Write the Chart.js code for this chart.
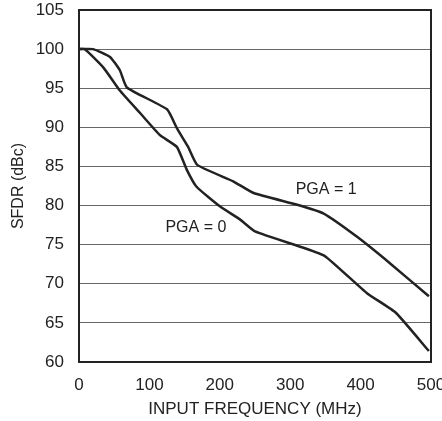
<!DOCTYPE html>
<html>
<head>
<meta charset="utf-8">
<script src="https://cdn.jsdelivr.net/npm/chart.js@4.4.1/dist/chart.umd.min.js"></script>
<style>
  html, body { margin: 0; padding: 0; background: #fff; }
  #wrap { width: 442px; height: 421px; }
</style>
</head>
<body>
<div id="wrap"><canvas id="chart"></canvas></div>
<script>
// SFDR vs input frequency
const pga1Freq = [0, 20, 44, 58, 68, 125, 139, 155, 168, 219, 248, 310, 347, 395, 442, 497]
const pga1Sfdr = [100, 100, 99.0, 97.3, 95.1, 92.3, 89.9, 87.5, 85.2, 83.1, 81.6, 80.1, 79.0, 76.0, 72.6, 68.4]

const pga0Freq = [0, 8, 35, 58, 87, 115, 139, 153, 167, 200, 229, 250, 319, 350, 409, 450, 497]
const pga0Sfdr = [100, 100, 97.6, 94.7, 91.8, 89.0, 87.5, 84.6, 82.4, 79.9, 78.2, 76.7, 74.6, 73.5, 68.8, 66.3, 61.4]

const xTicks = [0, 100, 200, 300, 400, 500]
const yTicks = [60, 65, 70, 75, 80, 85, 90, 95, 100, 105]

const labels = [
  { text: 'PGA = 1', x: 351, y: 82.0 },
  { text: 'PGA = 0', x: 166, y: 77.2 }
]

const FONT = '"Liberation Sans Narrow", "Liberation Sans", Arial, sans-serif'

function toPoints(xs, ys) {
  return xs.map((x, i) => ({ x: x, y: ys[i] }))
}

const frame = {
  id: 'frame',
  afterDatasetsDraw(chart) {
    const { ctx, chartArea: a, scales } = chart
    ctx.save()
    ctx.strokeStyle = '#222'
    ctx.lineWidth = 2
    ctx.strokeRect(a.left, a.top, a.right - a.left, a.bottom - a.top)
    ctx.fillStyle = '#222'
    ctx.font = '16px ' + FONT
    ctx.textAlign = 'center'
    ctx.textBaseline = 'middle'
    labels.forEach(l => {
      ctx.fillText(l.text, scales.x.getPixelForValue(l.x), scales.y.getPixelForValue(l.y))
    })
    ctx.restore()
  }
}

const lineStyle = {
  borderColor: '#222',
  borderWidth: 2.5,
  pointRadius: 0,
  tension: 0.15,
  fill: false
}

function draw() {
  new Chart(document.getElementById('chart'), {
    type: 'line',
    data: {
      datasets: [
        Object.assign({ label: 'PGA = 1', data: toPoints(pga1Freq, pga1Sfdr) }, lineStyle),
        Object.assign({ label: 'PGA = 0', data: toPoints(pga0Freq, pga0Sfdr) }, lineStyle)
      ]
    },
    options: {
      responsive: true,
      maintainAspectRatio: false,
      animation: false,
      events: [],
      layout: { padding: { top: 10, right: 11, left: 0, bottom: 0 } },
      plugins: { legend: { display: false }, tooltip: { enabled: false } },
      scales: {
        x: {
          type: 'linear',
          min: 0,
          max: 500,
          afterBuildTicks(scale) { scale.ticks = xTicks.map(v => ({ value: v })) },
          afterFit(scale) {
            scale.height = 59
            scale.paddingLeft = 0
            scale.paddingRight = 0
          },
          grid: { display: false },
          border: { display: false },
          ticks: { color: '#222', font: { family: FONT, size: 17 }, padding: 5, maxRotation: 0 },
          title: {
            display: true,
            text: 'INPUT FREQUENCY (MHz)',
            color: '#222',
            font: { family: FONT, size: 17 },
            padding: { top: 0, bottom: 1 }
          }
        },
        y: {
          min: 60,
          max: 105,
          afterBuildTicks(scale) { scale.ticks = yTicks.map(v => ({ value: v })) },
          afterFit(scale) {
            scale.width = 79
            scale.paddingTop = 0
            scale.paddingBottom = 0
          },
          grid: { color: '#666', lineWidth: 1, drawTicks: false },
          border: { display: false },
          ticks: { color: '#222', font: { family: FONT, size: 17 }, padding: 15 },
          title: {
            display: true,
            text: 'SFDR (dBc)',
            color: '#222',
            font: { family: FONT, size: 16 },
            padding: { top: 9, bottom: 0 }
          }
        }
      }
    },
    plugins: [frame]
  })
}

document.fonts.load('16px "Liberation Sans Narrow"').then(draw, draw)
</script>
</body>
</html>
